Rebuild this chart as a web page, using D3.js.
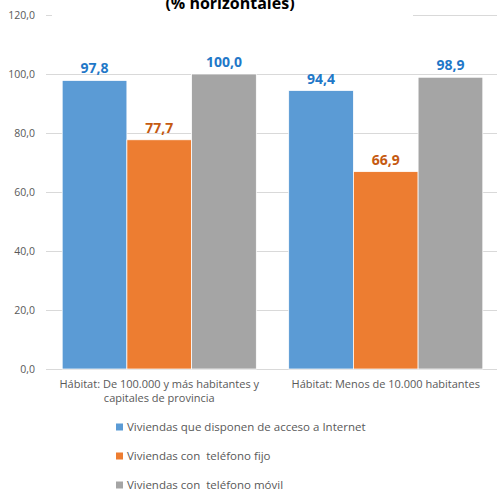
<!DOCTYPE html>
<html><head><meta charset="utf-8">
<script src="https://cdn.jsdelivr.net/npm/d3@7"></script>
<style>body{margin:0;background:#fff}svg{display:block}text{font-family:"Open Sans","Noto Sans",sans-serif;white-space:pre}</style>
</head><body><svg id="c" width="497" height="492"></svg>
<script>
const categories = [["Hábitat: De 100.000 y más habitantes y","capitales de provincia"],["Hábitat: Menos de 10.000 habitantes"]];
const seriesNames = ["Viviendas que disponen de acceso a Internet","Viviendas con  teléfono fijo","Viviendas con  teléfono móvil"];
const internet = [97.8, 94.4];
const fijo = [77.7, 66.9];
const movil = [100.0, 98.9];
const yTicks = [0,20,40,60,80,100,120];
const title = "(% horizontales)";

const seriesValues = [internet, fijo, movil];
const colors = ["#5b9bd5","#ed7d31","#a5a5a5"];
const labelColors = ["#1f78c8","#c55a11","#1f78c8"];
const fmt = v => d3.format(".1f")(v).replace(".", ",");

const svg = d3.select("#c");
const y = d3.scaleLinear().domain([0,120]).range([369,15]);
const x0 = d3.scaleBand().domain(d3.range(categories.length)).range([46,499]).paddingInner(0.143).paddingOuter(0.0715);
const x1 = d3.scaleBand().domain(d3.range(seriesValues.length)).range([0,x0.bandwidth()]);

// gridlines
svg.append("g").selectAll("line").data(yTicks).join("line")
  .attr("x1",46).attr("x2",497).attr("y1",d=>y(d)).attr("y2",d=>y(d))
  .attr("stroke","#d9d9d9").attr("stroke-width",1).attr("shape-rendering","crispEdges");

// y axis labels
const yAxis = d3.axisLeft(y).tickValues(yTicks).tickFormat(fmt).tickSize(0).tickPadding(0);
const ga = svg.append("g").attr("transform","translate(35,0)").call(yAxis);
ga.select(".domain").remove();
ga.selectAll("text").attr("fill","#595959").style("font-size","10.5px").attr("dy","0.35em");

// bars
const groups = svg.append("g").selectAll("g").data(categories).join("g")
  .attr("transform",(d,i)=>`translate(${x0(i)},0)`);
groups.each(function(c,ci){
  const g = d3.select(this);
  seriesValues.forEach((vals,si)=>{
    g.append("rect").attr("x",x1(si)).attr("width",x1.bandwidth())
      .attr("y",y(vals[ci])).attr("height",y(0)-y(vals[ci]))
      .attr("fill",colors[si]).attr("stroke","#fff").attr("stroke-width",0.75);
    g.append("text").attr("x",x1(si)+x1.bandwidth()/2).attr("y",y(vals[ci])-7)
      .attr("text-anchor","middle").attr("fill",labelColors[si])
      .style("font-size","14px").style("font-weight","bold").text(fmt(vals[ci]));
  });
});

// category labels
categories.forEach((lines,ci)=>{
  const t = svg.append("text").attr("text-anchor","middle").attr("fill","#595959").style("font-size","11px");
  lines.forEach((l,li)=>{
    t.append("tspan").attr("x",x0(ci)+x0.bandwidth()/2).attr("y",388+li*14).text(l);
  });
});

// title with white box
svg.append("rect").attr("x",52).attr("y",0).attr("width",361).attr("height",17).attr("fill","#fff");
svg.append("text").attr("x",230).attr("y",9).attr("text-anchor","middle").attr("fill","#000")
  .style("font-size","16px").style("font-weight","bold").text(title);

// legend
const lg = svg.append("g").selectAll("g").data(seriesNames).join("g")
  .attr("transform",(d,i)=>`translate(116,${427+i*29})`);
lg.append("rect").attr("x",0).attr("y",-3.5).attr("width",7).attr("height",7).attr("fill",(d,i)=>colors[i]);
lg.append("text").attr("x",11).attr("y",0).attr("dy","0.35em").attr("fill","#595959")
  .style("font-size","11.5px").text(d=>d);
</script></body></html>
